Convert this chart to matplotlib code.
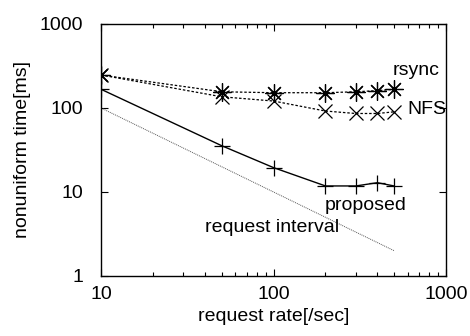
import matplotlib
matplotlib.use('Agg')
import matplotlib.pyplot as plt
from matplotlib.ticker import LogLocator, NullLocator, FixedLocator, NullFormatter

plt.rcParams['font.family'] = ['Liberation Sans', 'DejaVu Sans']

# datos
rate = [10, 50, 100, 200, 300, 400, 500]
rsync = [247, 156, 152, 152, 156, 161, 167]
nfs = [247, 136, 121, 92, 86, 86, 90]
proposed = [167, 35.6, 19.5, 11.8, 11.8, 12.9, 11.8]
interval = [100, 20, 10, 5, 3.33, 2.5, 2]

fig = plt.figure(figsize=(4.7, 3.36), dpi=100)
ax = fig.add_axes([0.215, 0.1786, 0.734, 0.75])

ax.plot(rate, rsync, color='black', lw=0.9, ls=(0, (2, 1.5)),
        marker=(8, 2, 0), ms=13, mew=0.9)
ax.plot(rate, nfs, color='black', lw=0.9, ls=(0, (2, 1.5)),
        marker='x', ms=10, mew=0.9)
ax.plot(rate, proposed, color='black', lw=1.0, ls='-',
        marker='+', ms=11, mew=0.9)
ax.plot(rate, interval, color='#555555', lw=0.7, ls=(0, (1, 1)))

ax.set_xscale('log')
ax.set_yscale('log')
ax.set_xlim(10, 1000)
ax.set_ylim(1, 1000)

ax.xaxis.set_major_locator(FixedLocator([10, 100, 1000]))
ax.xaxis.set_minor_locator(LogLocator(base=10, subs=range(2, 10)))
ax.xaxis.set_minor_formatter(NullFormatter())
ax.yaxis.set_major_locator(FixedLocator([1, 10, 100, 1000]))
ax.yaxis.set_minor_locator(NullLocator())
ax.set_xticklabels(['10', '100', '1000'])
ax.set_yticklabels(['1', '10', '100', '1000'])

ax.tick_params(which='both', direction='in', top=True, right=True, labelsize=14)
ax.tick_params(axis='x', pad=7)
ax.tick_params(axis='y', pad=13)
ax.tick_params(which='major', length=5, width=0.8)
ax.tick_params(which='minor', length=3, width=0.8)
for s in ax.spines.values():
    s.set_linewidth(1.0)

ax.set_xlabel('request rate[/sec]', fontsize=14, labelpad=4)
ax.set_ylabel('nonuniform time[ms]', fontsize=14, labelpad=6)

ax.text(920, 283, 'rsync', fontsize=14, ha='right', va='center')
ax.text(594, 95, 'NFS', fontsize=14, ha='left', va='center')
ax.text(199, 7.0, 'proposed', fontsize=14, ha='left', va='center')
ax.text(40, 3.73, 'request interval', fontsize=14, ha='left', va='center')

fig.savefig('out.png', dpi=100)
